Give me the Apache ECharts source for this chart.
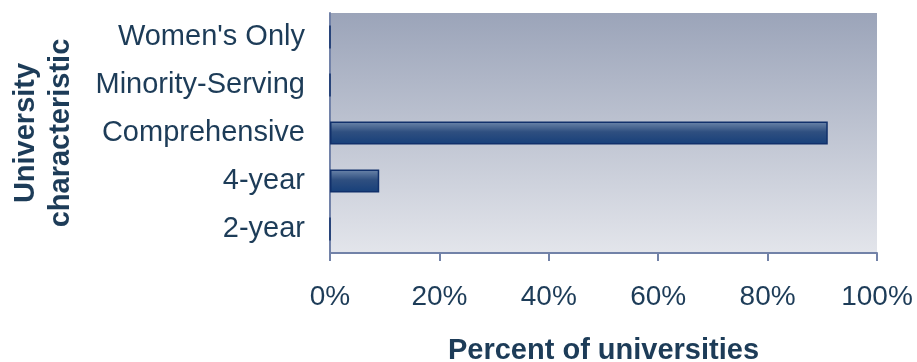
<!DOCTYPE html>
<html>
<head>
<meta charset="utf-8">
<script src="https://cdn.jsdelivr.net/npm/echarts@6/dist/echarts.min.js"></script>
<style>
  html, body { margin: 0; padding: 0; background: #fff; }
  #chart { width: 917px; height: 362px; }
</style>
</head>
<body>
<div id="chart"></div>
<script>
const categories = ['2-year', '4-year', 'Comprehensive', 'Minority-Serving', "Women's Only"]
const percentValues = [0, 9, 91, 0, 0]
const xTicks = [0, 20, 40, 60, 80, 100]

const textColor = '#1d3c58'
const font = 'Liberation Sans, Arial'
const chart = echarts.init(document.getElementById('chart'))

const option = {
  animation: false,
  grid: {
    left: 330,
    right: 40,
    top: 13,
    bottom: 109,
    outerBoundsMode: 'none',
    containLabel: false,
    show: true,
    borderWidth: 0,
    backgroundColor: {
      type: 'linear', x: 0, y: 0, x2: 0, y2: 1,
      colorStops: [
        { offset: 0, color: '#9ba4b9' },
        { offset: 1, color: '#e3e5eb' }
      ]
    }
  },
  xAxis: {
    type: 'value',
    min: xTicks[0],
    max: xTicks[xTicks.length - 1],
    interval: 20,
    name: 'Percent of universities',
    nameLocation: 'middle',
    nameGap: 83,
    nameTextStyle: { color: textColor, fontSize: 29, fontWeight: 'bold', fontFamily: font },
    axisLine: { show: true, lineStyle: { color: '#7282a8', width: 2 } },
    axisTick: { show: true, length: 8, lineStyle: { color: '#7282a8', width: 2 } },
    splitLine: { show: false },
    axisLabel: {
      color: textColor, fontSize: 28, margin: 30,
      fontFamily: font,
      formatter: v => v + '%'
    }
  },
  yAxis: {
    type: 'category',
    data: categories,
    name: 'University\ncharacteristic',
    nameLocation: 'middle',
    nameRotate: 90,
    nameGap: 252,
    nameTextStyle: { color: textColor, fontSize: 29, fontWeight: 'bold', lineHeight: 35, fontFamily: font },
    axisLine: { show: true, lineStyle: { color: '#7282a8', width: 2 } },
    axisTick: { show: false },
    axisLabel: { color: textColor, fontSize: 29, margin: 25, fontFamily: font }
  },
  series: [
    {
      type: 'bar',
      data: percentValues,
      barWidth: '48%',
      itemStyle: {
        borderColor: '#11306b',
        borderWidth: 1.5,
        color: {
          type: 'linear', x: 0, y: 0, x2: 0, y2: 1,
          colorStops: [
            { offset: 0, color: '#6d86aa' },
            { offset: 0.45, color: '#2f4f80' },
            { offset: 1, color: '#163f7a' }
          ]
        }
      }
    }
  ]
}
chart.setOption(option)
</script>
</body>
</html>
